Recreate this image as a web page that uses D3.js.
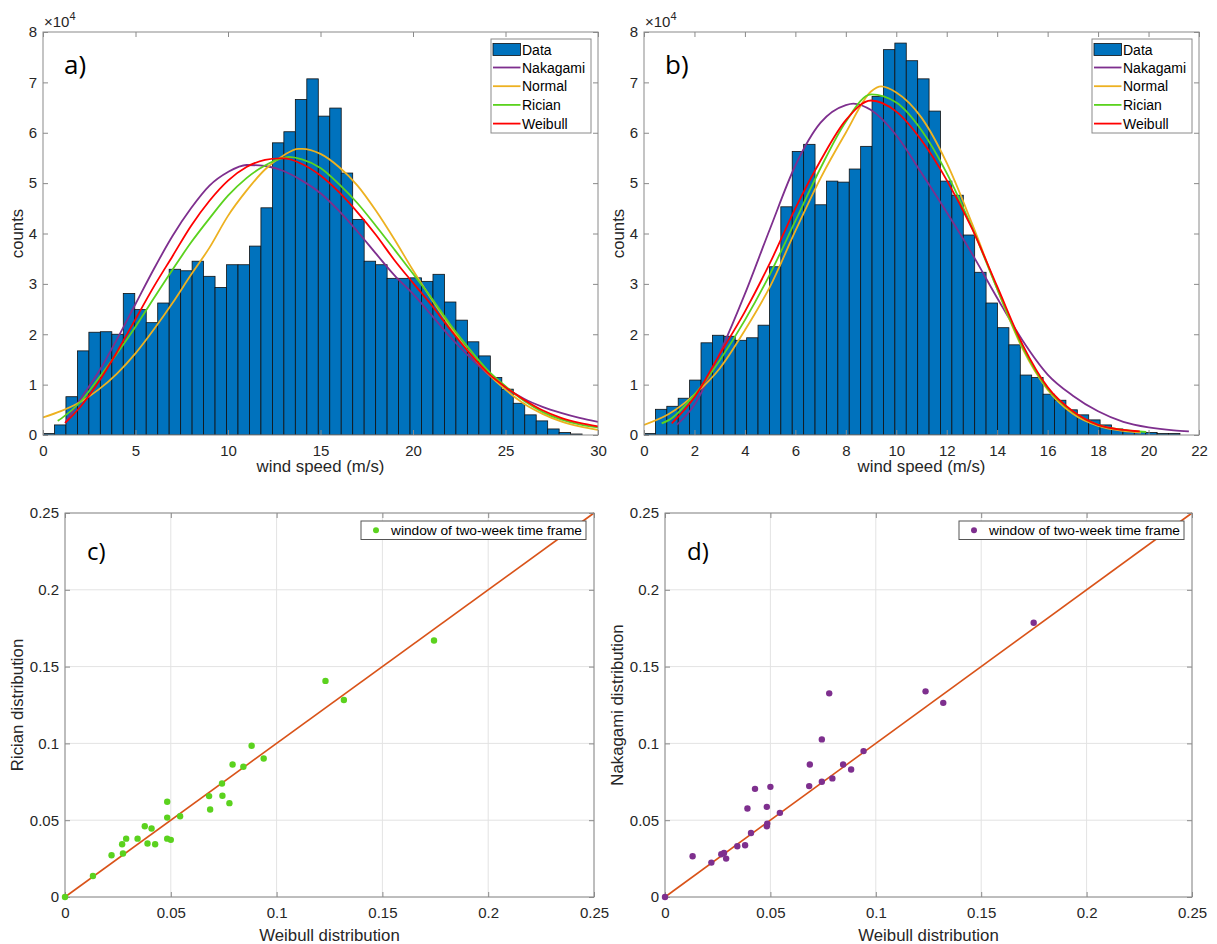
<!DOCTYPE html>
<html><head><meta charset="utf-8">
<script src="https://cdn.jsdelivr.net/npm/d3@7"></script>
<style>
body{margin:0;background:#fff}
svg text{font-family:"Liberation Sans",Arial,Helvetica,sans-serif}
</style></head>
<body><svg id="fig" width="1217" height="944"></svg>
<script>
// ---------- DATA ----------
// Panel a: histogram (counts x 1e4), bin width in m/s
const binWidthA = 0.62;
const countsA = [0.03,0.2,0.76,1.67,2.04,2.05,2.0,2.81,2.49,2.23,2.62,3.29,3.26,3.45,3.15,2.93,3.38,3.38,3.75,4.51,5.80,6.02,6.66,7.07,6.33,6.49,5.20,4.28,3.45,3.38,3.11,3.11,3.12,3.05,3.19,2.64,2.28,1.85,1.57,1.14,0.91,0.63,0.40,0.28,0.12,0.05,0.02];
const nakagamiA = [[1.2,0.24],[2,0.7],[3,1.25],[4,1.9],[5,2.6],[6,3.3],[7,3.95],[8,4.5],[9,4.95],[10,5.22],[11,5.36],[12,5.34],[13,5.24],[14,5.05],[15,4.8],[16,4.45],[17,4.04],[18,3.6],[19,3.17],[20,2.8],[21,2.38],[22,1.95],[23,1.57],[24,1.22],[25,0.94],[26,0.72],[27,0.56],[28,0.44],[29,0.34],[30,0.26]];
const normalA = [[0,0.35],[1,0.48],[2,0.65],[3,0.9],[4,1.22],[5,1.62],[6,2.1],[7,2.62],[8,3.18],[9,3.72],[10,4.35],[11,4.85],[12,5.27],[13,5.55],[13.8,5.68],[14,5.68],[15,5.58],[16,5.32],[17,4.95],[18,4.45],[19,3.88],[20,3.27],[21,2.7],[22,2.16],[23,1.66],[24,1.24],[25,0.9],[26,0.62],[27,0.42],[28,0.27],[29,0.17],[30,0.1]];
const ricianA = [[0.8,0.28],[1,0.33],[2,0.65],[3,1.12],[4,1.62],[5,2.15],[6,2.72],[7,3.28],[8,3.82],[9,4.3],[10,4.75],[11,5.1],[12,5.35],[13,5.5],[13.3,5.52],[14,5.47],[15,5.3],[16,4.98],[17,4.6],[18,4.15],[19,3.68],[20,3.2],[21,2.72],[22,2.2],[23,1.73],[24,1.3],[25,0.97],[26,0.68],[27,0.46],[28,0.31],[29,0.21],[30,0.15]];
const weibullA = [[1.2,0.24],[2,0.55],[3,1.05],[4,1.65],[5,2.3],[6,2.95],[7,3.55],[8,4.15],[9,4.65],[10,5.05],[11,5.32],[12,5.46],[12.8,5.49],[13,5.49],[14,5.38],[15,5.15],[16,4.82],[17,4.42],[18,3.97],[19,3.47],[20,3.02],[21,2.58],[22,2.1],[23,1.65],[24,1.25],[25,0.95],[26,0.7],[27,0.49],[28,0.34],[29,0.24],[30,0.17]];

// Panel b
const binWidthB = 0.452;
const countsB = [0.03,0.51,0.57,0.73,1.09,1.83,1.98,1.96,1.88,1.93,2.18,3.34,4.53,5.63,5.77,4.57,5.04,5.02,5.28,5.73,6.72,7.65,7.78,7.43,7.07,6.43,5.04,4.76,3.97,3.23,2.62,2.13,1.79,1.19,1.14,0.81,0.69,0.50,0.40,0.30,0.20,0.12,0.09,0.07,0.05,0.03,0.03];
const nakagamiB = [[1.3,0.2],[2,0.6],[3,1.62],[4,2.8],[5,4.1],[6,5.35],[7,6.2],[8,6.55],[8.3,6.58],[9,6.45],[10,5.95],[11,5.2],[12,4.42],[13,3.6],[14,2.72],[15,1.88],[16,1.2],[17,0.78],[18,0.47],[19,0.26],[20,0.15],[21,0.09],[21.6,0.07]];
const normalB = [[0,0.2],[1,0.42],[2,0.8],[3,1.32],[4,2.08],[5,2.95],[6,4.05],[7,5.1],[8,6.0],[9,6.82],[9.4,6.92],[10,6.8],[11,6.3],[12,5.4],[13,4.2],[14,2.9],[15,1.72],[16,0.9],[17,0.42],[18,0.18],[19,0.08],[19.7,0.05]];
const ricianB = [[0.7,0.23],[1,0.3],[2,0.8],[3,1.48],[4,2.28],[5,3.2],[6,4.25],[7,5.3],[8,6.22],[9,6.76],[10,6.6],[11,6.05],[12,5.2],[13,4.12],[14,2.9],[15,1.75],[16,0.92],[17,0.46],[18,0.2],[19,0.1],[19.9,0.06]];
const weibullB = [[1.1,0.23],[2,0.75],[3,1.6],[4,2.45],[5,3.42],[6,4.5],[7,5.45],[8,6.25],[9,6.64],[10,6.42],[11,5.85],[12,5.06],[13,4.1],[14,2.95],[15,1.8],[16,0.95],[17,0.47],[18,0.2],[19,0.1],[19.65,0.07]];

// Panel c: Weibull vs Rician
const weibullC = [0,0.0132,0.022,0.027,0.0274,0.0289,0.0343,0.0377,0.039,0.0409,0.0426,0.0483,0.0483,0.0483,0.05,0.0544,0.0681,0.0686,0.0742,0.0744,0.0777,0.0792,0.0843,0.0882,0.0939,0.1231,0.1318,0.1744];
const ricianC  = [0,0.0137,0.0272,0.0343,0.0283,0.038,0.038,0.0461,0.0348,0.0446,0.0343,0.062,0.0517,0.038,0.0372,0.0526,0.0657,0.057,0.0739,0.0659,0.0611,0.0863,0.0848,0.0985,0.0902,0.1407,0.1283,0.167];
// Panel d: Weibull vs Nakagami
const weibullD = [0,0.0131,0.022,0.0267,0.028,0.029,0.0343,0.038,0.0391,0.0408,0.0427,0.0483,0.0483,0.0485,0.05,0.0545,0.0684,0.0687,0.0744,0.0744,0.0779,0.0794,0.0845,0.0883,0.0942,0.1236,0.132,0.1749];
const nakagamiD = [0,0.0265,0.0224,0.0278,0.0287,0.025,0.033,0.0337,0.0576,0.0417,0.0704,0.0587,0.0461,0.0478,0.0717,0.0548,0.0722,0.0863,0.1026,0.075,0.1326,0.0772,0.0863,0.083,0.095,0.1339,0.1264,0.1785];

const histTicksA = [0,5,10,15,20,25,30];
const histTicksB = [0,2,4,6,8,10,12,14,16,18,20,22];
const countTicks = [0,1,2,3,4,5,6,7,8];
const scatterTicks = [0,0.05,0.1,0.15,0.2,0.25];
const fitNames = ["Nakagami","Normal","Rician","Weibull"];
const fitColors = ["#7E2F8E","#EDB120","#5BD21E","#FF0000"];

// ---------- DRAW ----------
const svg = d3.select("#fig");
const AX = "#262626", BOX = "#8a8a8a";

function styleAxis(g){
  g.select(".domain").remove();
  g.selectAll(".tick line").attr("stroke", BOX);
  g.selectAll(".tick text").attr("fill", AX).style("font-size","15px");
}

function frame(box, x, y, xt, yt, fmtX, fmtY, pad){
  const g = svg.append("g");
  g.append("g").attr("transform",`translate(0,${box.b})`)
    .call(d3.axisBottom(x).tickValues(xt).tickFormat(fmtX).tickSize(-5).tickSizeOuter(0).tickPadding(pad.x)).call(styleAxis);
  g.append("g").attr("transform",`translate(${box.l},0)`)
    .call(d3.axisLeft(y).tickValues(yt).tickFormat(fmtY).tickSize(-5).tickSizeOuter(0).tickPadding(pad.y)).call(styleAxis);
  g.append("g").attr("transform",`translate(0,${box.t})`)
    .call(d3.axisTop(x).tickValues(xt).tickFormat("").tickSize(-5).tickSizeOuter(0)).call(styleAxis);
  g.append("g").attr("transform",`translate(${box.r},0)`)
    .call(d3.axisRight(y).tickValues(yt).tickFormat("").tickSize(-5).tickSizeOuter(0)).call(styleAxis);
  g.append("rect").attr("x",box.l).attr("y",box.t).attr("width",box.r-box.l).attr("height",box.b-box.t)
    .attr("fill","none").attr("stroke",BOX).attr("stroke-width",1);
}

function histPanel(box, xmax, xt, counts, bw, curves, letter, id){
  const x = d3.scaleLinear().domain([0,xmax]).range([box.l,box.r]);
  const y = d3.scaleLinear().domain([0,8]).range([box.b,box.t]);
  svg.append("clipPath").attr("id",id).append("rect")
    .attr("x",box.l).attr("y",box.t).attr("width",box.r-box.l).attr("height",box.b-box.t);
  const g = svg.append("g").attr("clip-path",`url(#${id})`);
  g.selectAll("rect.bar").data(counts).join("rect").attr("class","bar")
    .attr("x",(d,i)=>x(i*bw)).attr("width",(d,i)=>x((i+1)*bw)-x(i*bw))
    .attr("y",d=>y(d)).attr("height",d=>y(0)-y(d))
    .attr("fill","#0072BD").attr("stroke","#111").attr("stroke-width",0.8);
  const line = d3.line().x(d=>x(d[0])).y(d=>y(d[1])).curve(d3.curveMonotoneX);
  curves.forEach((c,i)=>{
    g.append("path").attr("d",line(c)).attr("fill","none").attr("stroke",fitColors[i]).attr("stroke-width",1.8);
  });
  frame(box,x,y,xt,countTicks,d3.format("d"),d3.format("d"),{x:10,y:6});
  // exponent label
  const ex = svg.append("text").attr("x",box.l+1).attr("y",box.t-5).attr("fill",AX).style("font-size","15px");
  ex.append("tspan").text("\u00d710");
  ex.append("tspan").attr("dy",-7).style("font-size","11px").text("4");
  // axis labels
  svg.append("text").attr("x",(box.l+box.r)/2).attr("y",box.b+37).attr("text-anchor","middle")
    .attr("fill",AX).style("font-size","16.8px").text("wind speed (m/s)");
  svg.append("text").attr("transform",`translate(${box.l-20},${(box.t+box.b)/2}) rotate(-90)`)
    .attr("text-anchor","middle").attr("fill",AX).style("font-size","16.8px").text("counts");
  svg.append("text").attr("x",box.l+21).attr("y",box.t+42).attr("fill","#000")
    .style("font-family","'Open Sans',sans-serif").style("font-size","26px").text(letter);
  // legend
  const lx = box.r-107, ly = box.t+7;
  const lg = svg.append("g");
  lg.append("rect").attr("x",lx).attr("y",ly).attr("width",100).attr("height",94).attr("fill","#fff").attr("stroke",BOX);
  lg.append("rect").attr("x",lx+2).attr("y",ly+4.5).attr("width",27.5).attr("height",12).attr("fill","#0072BD").attr("stroke","#111").attr("stroke-width",0.8);
  lg.append("text").attr("x",lx+31).attr("y",ly+16).attr("fill","#000").style("font-size","14px").text("Data");
  fitNames.forEach((n,i)=>{
    const yy = ly + 28.5 + i*18.7;
    lg.append("line").attr("x1",lx+2).attr("x2",lx+29.5).attr("y1",yy).attr("y2",yy).attr("stroke",fitColors[i]).attr("stroke-width",1.8);
    lg.append("text").attr("x",lx+31).attr("y",yy+5).attr("fill","#000").style("font-size","14px").text(n);
  });
}

function scatterPanel(box, xs, ys, color, ylabel, letter){
  const x = d3.scaleLinear().domain([0,0.25]).range([box.l,box.r]);
  const y = d3.scaleLinear().domain([0,0.25]).range([box.b,box.t]);
  const g = svg.append("g");
  scatterTicks.forEach(t=>{
    g.append("line").attr("x1",x(t)).attr("x2",x(t)).attr("y1",box.t).attr("y2",box.b).attr("stroke","#e3e3e3");
    g.append("line").attr("y1",y(t)).attr("y2",y(t)).attr("x1",box.l).attr("x2",box.r).attr("stroke","#e3e3e3");
  });
  const fmt = d => d===0 ? "0" : String(+d.toFixed(2));
  frame(box,x,y,scatterTicks,scatterTicks,fmt,fmt,{x:10,y:6});
  g.append("line").attr("x1",x(0)).attr("y1",y(0)).attr("x2",x(0.25)).attr("y2",y(0.25))
    .attr("stroke","#D95319").attr("stroke-width",1.6);
  svg.append("g").selectAll("circle").data(xs).join("circle")
    .attr("cx",d=>x(d)).attr("cy",(d,i)=>y(ys[i])).attr("r",3.2).attr("fill",color);
  svg.append("text").attr("x",(box.l+box.r)/2).attr("y",box.b+44).attr("text-anchor","middle")
    .attr("fill",AX).style("font-size","16.8px").text("Weibull distribution");
  svg.append("text").attr("transform",`translate(${box.l-42},${(box.t+box.b)/2}) rotate(-90)`)
    .attr("text-anchor","middle").attr("fill",AX).style("font-size","16.8px").text(ylabel);
  svg.append("text").attr("x",box.l+22).attr("y",box.t+47).attr("fill","#000")
    .style("font-family","'Open Sans',sans-serif").style("font-size","24px").text(letter);
  const lx = box.r-233, ly = box.t+8;
  svg.append("rect").attr("x",lx).attr("y",ly).attr("width",225).attr("height",18.5).attr("fill","#fff").attr("stroke","#555");
  svg.append("circle").attr("cx",lx+15).attr("cy",ly+9.3).attr("r",3).attr("fill",color);
  svg.append("text").attr("x",lx+30).attr("y",ly+14).attr("fill","#000").style("font-size","13.7px").text("window of two-week time frame");
}

histPanel({l:43,r:598,t:32,b:435},30,histTicksA,countsA,binWidthA,[nakagamiA,normalA,ricianA,weibullA],"a)","clipA");
histPanel({l:644,r:1199,t:32,b:435},22,histTicksB,countsB,binWidthB,[nakagamiB,normalB,ricianB,weibullB],"b)","clipB");
scatterPanel({l:65,r:594,t:513,b:897},weibullC,ricianC,"#5BD21E","Rician distribution","c)");
scatterPanel({l:665,r:1192,t:513,b:897},weibullD,nakagamiD,"#7E2F8E","Nakagami distribution","d)");
</script></body></html>
